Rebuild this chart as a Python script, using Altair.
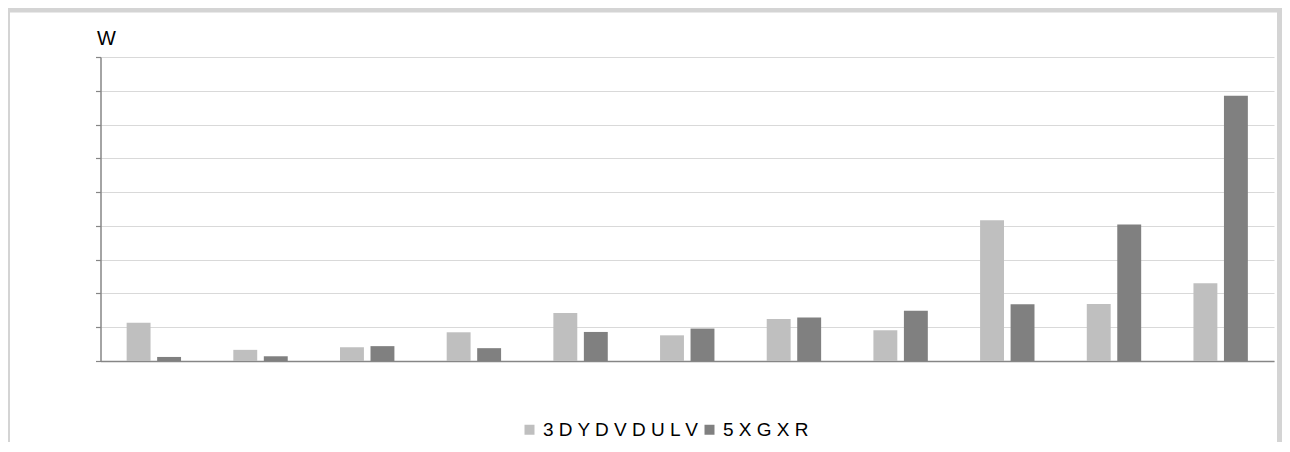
import altair as alt
import pandas as pd

groups = [str(i) for i in range(1, 12)]
series_names = ["3 D Y D V D U L V", "5 X G X R"]
light_values = [1.13, 0.33, 0.41, 0.85, 1.42, 0.76, 1.24, 0.91, 4.17, 1.69, 2.30]
dark_values = [0.12, 0.14, 0.44, 0.38, 0.86, 0.96, 1.29, 1.49, 1.68, 4.04, 7.85]
series_colors = ["#bfbfbf", "#808080"]
tick_values = list(range(10))

rows = []
for g, a, b in zip(groups, light_values, dark_values):
    rows.append({"group": g, "series": series_names[0], "value": a})
    rows.append({"group": g, "series": series_names[1], "value": b})
df = pd.DataFrame(rows)

AXIS_GRAY = "#868686"
GRID_GRAY = "#d9d9d9"
FRAME_GRAY = "#d4d4d4"

bars = alt.Chart(df).mark_bar().encode(
    x=alt.X(
        "group:N",
        sort=groups,
        scale=alt.Scale(paddingInner=0.49, paddingOuter=0.245),
        axis=alt.Axis(labels=False, ticks=False, title=None, grid=False,
                      domainColor=AXIS_GRAY, domainWidth=1.5),
    ),
    xOffset=alt.XOffset("series:N", sort=series_names,
                        scale=alt.Scale(paddingInner=0.216, paddingOuter=0)),
    y=alt.Y(
        "value:Q",
        scale=alt.Scale(domain=[0, 9], nice=False),
        axis=alt.Axis(
            values=tick_values, labels=False, tickSize=5, tickColor=AXIS_GRAY,
            tickWidth=1.2, domainColor=AXIS_GRAY, domainWidth=1.5,
            grid=True, gridColor=GRID_GRAY, gridWidth=1,
            title="W", titleAngle=0, titleAlign="left", titleBaseline="alphabetic",
            titleX=-4, titleY=-13, titleFontSize=20, titleFontWeight="normal",
            titleFont="Liberation Sans", titleColor="#000000",
        ),
    ),
    color=alt.Color(
        "series:N",
        sort=series_names,
        scale=alt.Scale(domain=series_names, range=series_colors),
        legend=alt.Legend(
            orient="none", legendX=419.5, legendY=363, direction="horizontal",
            title=None, symbolType="square", symbolSize=100, symbolStrokeWidth=0,
            symbolOpacity=1, labelFontSize=19, labelFont="Liberation Sans",
            labelColor="#000000", labelOffset=4, columnPadding=-42, padding=0,
            labelLimit=400,
        ),
    ),
)

deco = pd.DataFrame({"k": [0]})

def frame_rect(x, x2, y, y2):
    return alt.Chart(deco).mark_rect(color=FRAME_GRAY).encode(
        x=alt.value(x), x2=alt.value(x2), y=alt.value(y), y2=alt.value(y2)
    )

frame = (
    frame_rect(-92.5, -90.5, -49, 385)
    + frame_rect(-92.5, 1181.5, -49, -44.5)
    + frame_rect(1176.5, 1181.5, -49, 385)
)

chart = alt.layer(frame, bars).properties(
    width=1173.5,
    height=304,
    autosize=alt.AutoSizeParams(type="none"),
    padding={"left": 92.5, "top": 49, "right": 8, "bottom": 81},
).configure(background="white").configure_view(stroke=None)

chart.save("out.html", embed_options={"renderer": "svg", "actions": False})
